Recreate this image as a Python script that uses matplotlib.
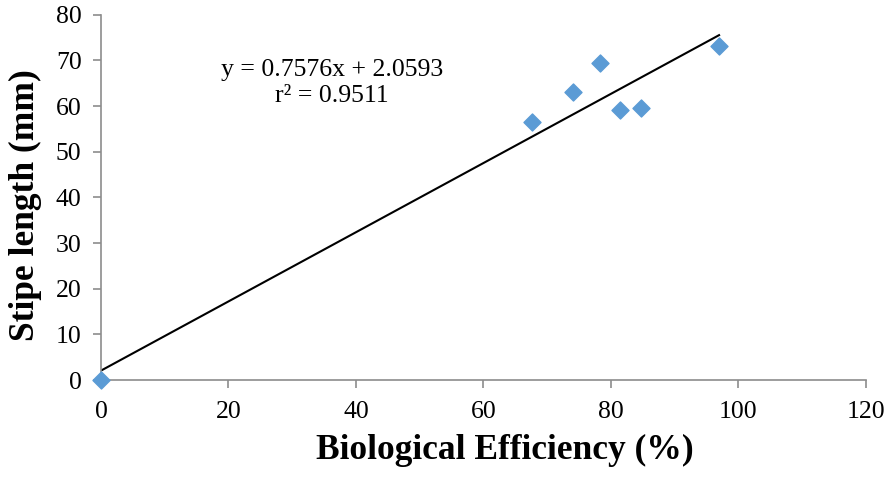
import matplotlib
matplotlib.use('Agg')
import matplotlib.pyplot as plt
import numpy as np

# biological efficiency (%) vs stipe length (mm)
bio_eff = [0, 67.6, 74.1, 78.3, 81.4, 84.8, 97.0]
stipe_len = [0, 56.6, 63.2, 69.5, 59.2, 59.5, 73.2]
slope, intercept = 0.7576, 2.0593
x_ticks = [0, 20, 40, 60, 80, 100, 120]
y_ticks = [0, 10, 20, 30, 40, 50, 60, 70, 80]

plt.rcParams['font.family'] = ['Liberation Serif', 'DejaVu Serif']

fig = plt.figure(figsize=(8.86, 4.78), dpi=100)
ax = fig.add_axes([0.114, 0.205, 0.863, 0.764])

# trendline from 0 to max x
xl = np.array([min(bio_eff), max(bio_eff)])
ax.plot(xl, slope * xl + intercept, color='black', lw=1.5, zorder=2)
ax.scatter(bio_eff, stipe_len, marker='D', s=75, color='#5B9BD5', zorder=3, clip_on=False)

ax.set_xlim(0, 120)
ax.set_ylim(0, 80)
ax.set_xticks(x_ticks)
ax.set_yticks(y_ticks)
ax.tick_params(labelsize=18.5, colors='black', length=6, width=1.2)
ax.tick_params(axis='x', color='#8c8c8c', pad=9)
ax.tick_params(axis='y', color='#8c8c8c', pad=8)
for s in ['top', 'right']:
    ax.spines[s].set_visible(False)
for s in ['left', 'bottom']:
    ax.spines[s].set_color('#8c8c8c')
    ax.spines[s].set_linewidth(1.2)

ax.set_xlabel('Biological Efficiency (%)', fontsize=25.5, fontweight='bold', labelpad=8)
ax.set_ylabel('Stipe length (mm)', fontsize=25.5, fontweight='bold', labelpad=10)
# labels sit a little off-centre in the original
ax.xaxis.label.set_x(0.528)
ax.yaxis.label.set_y(0.478)

ax.text(36.2, 65, 'y = 0.7576x + 2.0593\nr² = 0.9511', fontsize=18.5, ha='center', va='center',
        linespacing=1.25)

fig.savefig('out.png', dpi=100)
